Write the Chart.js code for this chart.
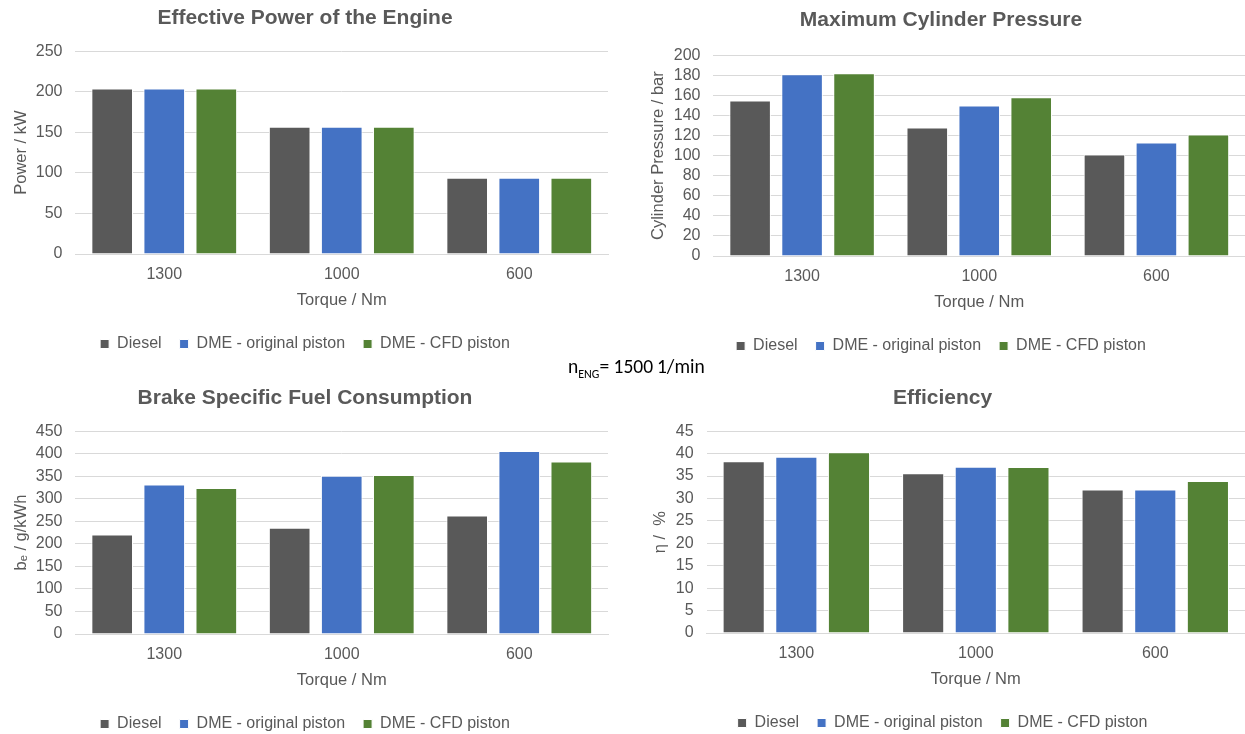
<!DOCTYPE html>
<html>
<head>
<meta charset="utf-8">
<script src="https://cdn.jsdelivr.net/npm/chart.js@4/dist/chart.umd.min.js"></script>
<style>
  body { margin: 0; background: #fff; width: 1245px; height: 734px; position: relative; overflow: hidden; }
  .box { position: absolute; }
  #note { position: absolute; left: 568px; top: 354px; font-family: Carlito, Calibri, "Liberation Sans", sans-serif; font-size: 19.5px; color: #000; white-space: nowrap; }
  #note sub { font-size: 12px; }
</style>
</head>
<body>
<div class="box" style="left:0;top:0;width:620px;height:362px"><canvas id="powerChart"></canvas></div>
<div class="box" style="left:620px;top:0;width:625px;height:364px"><canvas id="pressureChart"></canvas></div>
<div class="box" style="left:0;top:376px;width:620px;height:366px"><canvas id="bsfcChart"></canvas></div>
<div class="box" style="left:620px;top:378px;width:625px;height:363px"><canvas id="effChart"></canvas></div>
<div id="note">n<sub>ENG</sub>= 1500&#8201;1/min</div>
<script>
  const torque = ['1300', '1000', '600'];
  const seriesNames = ['Diesel', 'DME - original piston', 'DME - CFD piston'];
  const seriesColors = ['#595959', '#4472C4', '#548235'];

  // effective power, kW
  const powerDiesel = [204, 157, 94];
  const powerOriginal = [204, 157, 94];
  const powerCfd = [204, 157, 94];

  // max cylinder pressure, bar
  const pressureDiesel = [155, 128, 101];
  const pressureOriginal = [181, 150, 113];
  const pressureCfd = [182, 158, 121];

  // brake specific fuel consumption, g/kWh
  const bsfcDiesel = [221, 236, 263];
  const bsfcOriginal = [332, 351, 406];
  const bsfcCfd = [324, 353, 383];

  // efficiency, %
  const effDiesel = [38.3, 35.6, 32.0];
  const effOriginal = [39.3, 37.1, 32.0];
  const effCfd = [40.3, 37.0, 33.9];

  const textColor = '#595959';
  const font = 'Arial, "Liberation Sans", sans-serif';
  Chart.defaults.font.family = font;
  Chart.defaults.color = textColor;
  Chart.defaults.animation = false;

  function makeChart(id, title, yTitle, series, yMax, yStep, pad, yTitlePad, titleGap) {
    const ctx = document.getElementById(id).getContext('2d');
    return new Chart(ctx, {
      type: 'bar',
      data: {
        labels: torque,
        datasets: series.map((d, i) => ({
          label: seriesNames[i],
          data: d,
          backgroundColor: seriesColors[i],
          borderColor: '#ffffff',
          borderWidth: 1,
          categoryPercentage: 0.88,
          barPercentage: 0.8
        }))
      },
      options: {
        responsive: true,
        maintainAspectRatio: false,
        layout: { padding: pad },
        plugins: {
          title: {
            display: true,
            text: title,
            font: { size: 21, weight: 'bold' },
            color: textColor,
            padding: { top: 0, bottom: titleGap }
          },
          legend: {
            position: 'bottom',
            labels: {
              boxWidth: 9,
              boxHeight: 9,
              font: { size: 16 },
              padding: 18
            }
          },
          tooltip: { enabled: false }
        },
        scales: {
          x: {
            grid: { display: false },
            border: { color: '#d9d9d9' },
            ticks: { font: { size: 16 }, padding: 3 },
            title: {
              display: true,
              text: 'Torque / Nm',
              font: { size: 16.5 },
              padding: { top: 3, bottom: 8 }
            }
          },
          y: {
            min: 0,
            max: yMax,
            grid: { color: '#d9d9d9', drawTicks: false },
            border: { display: false },
            ticks: { stepSize: yStep, autoSkip: false, font: { size: 16 }, padding: 13 },
            title: {
              display: true,
              text: yTitle,
              font: { size: 16.5 },
              padding: yTitlePad
            }
          }
        }
      }
    });
  }

  makeChart('powerChart', 'Effective Power of the Engine', 'Power / kW',
    [powerDiesel, powerOriginal, powerCfd], 250, 50,
    { left: 2, right: 12, top: 6, bottom: 0 }, { top: 10, bottom: -9 }, 20);

  makeChart('pressureChart', 'Maximum Cylinder Pressure', 'Cylinder Pressure / bar',
    [pressureDiesel, pressureOriginal, pressureCfd], 200, 20,
    { left: 17, right: 0, top: 8, bottom: 0 }, { top: 12, bottom: -8 }, 22);

  makeChart('bsfcChart', 'Brake Specific Fuel Consumption', 'b\u2091 / g/kWh',
    [bsfcDiesel, bsfcOriginal, bsfcCfd], 450, 50,
    { left: 2, right: 12, top: 10, bottom: 0 }, { top: 10, bottom: -9 }, 20);

  makeChart('effChart', 'Efficiency', '\u03b7 /  %',
    [effDiesel, effOriginal, effCfd], 45, 5,
    { left: 20, right: 0, top: 8, bottom: 0 }, { top: 11, bottom: -8 }, 20);
</script>
</body>
</html>
